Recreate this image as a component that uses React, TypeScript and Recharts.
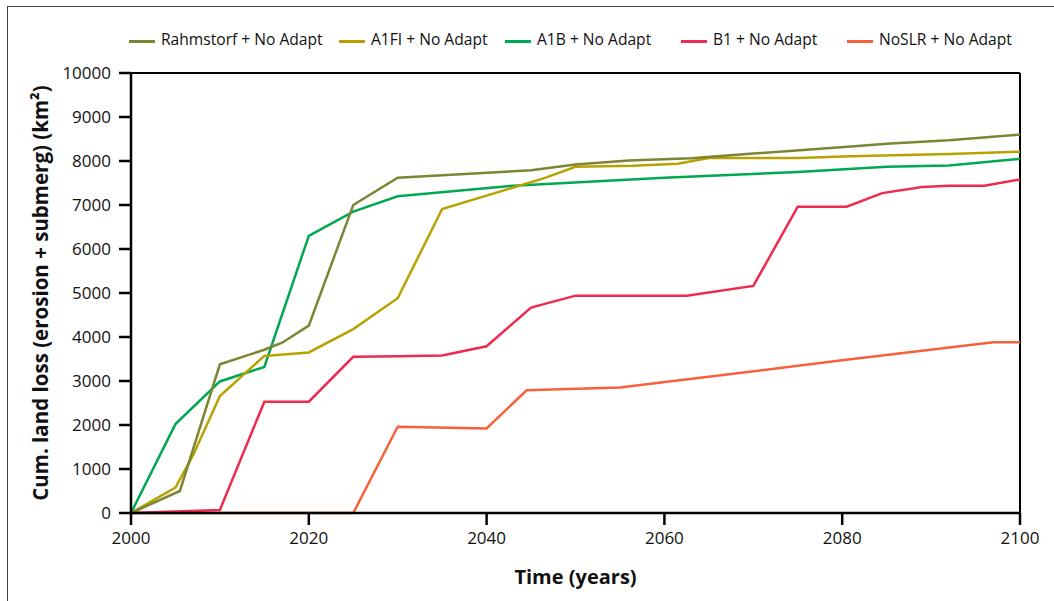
import { LineChart, Line, XAxis, YAxis, ReferenceLine } from 'recharts';

// scenario names and colours
const seriesNames = [
  'Rahmstorf + No Adapt',
  'A1FI + No Adapt',
  'A1B + No Adapt',
  'B1 + No Adapt',
  'NoSLR + No Adapt',
];
const seriesColors = ['#7b8532', '#b8a200', '#00a850', '#ee2a4e', '#f7603a'];
const seriesKeys = ['rahm', 'a1fi', 'a1b', 'b1', 'noslr'];

// [year, km2] points
const rahmstorf = [
  [2000, 0], [2005.5, 500], [2010, 3380], [2015, 3710], [2017, 3870], [2020, 4260],
  [2025, 7000], [2030, 7620], [2045, 7790], [2050, 7920], [2056, 8010], [2063, 8060],
  [2070, 8170], [2081, 8330], [2085, 8390], [2092, 8470], [2100, 8600],
];
const a1fi = [
  [2000, 0], [2005, 580], [2007, 1320], [2010, 2660], [2015, 3570], [2020, 3650],
  [2025, 4180], [2030, 4880], [2035, 6910], [2046.5, 7610], [2050, 7870], [2056.5, 7890],
  [2061.5, 7940], [2065, 8070], [2075, 8070], [2081, 8110], [2092, 8160], [2100, 8210],
];
const a1b = [
  [2000, 0], [2005, 2020], [2010, 2990], [2015, 3320], [2020, 6300], [2025, 6850],
  [2030, 7200], [2043, 7440], [2060, 7620], [2075, 7750], [2085, 7870], [2092, 7900],
  [2100, 8050],
];
const b1 = [
  [2000, 0], [2010, 70], [2015, 2530], [2020, 2530], [2025, 3550], [2030, 3560],
  [2035, 3580], [2040, 3790], [2045, 4670], [2050, 4940], [2062.5, 4940], [2070, 5160],
  [2075, 6960], [2080.5, 6960], [2084.5, 7270], [2089, 7410], [2092, 7440], [2096, 7440],
  [2100, 7580],
];
const noslr = [
  [2000, 0], [2025, 0], [2030, 1960], [2040, 1920], [2044.5, 2790], [2055, 2850],
  [2080, 3470], [2097, 3880], [2100, 3880],
];

const allSeries = [rahmstorf, a1fi, a1b, b1, noslr];

const xTicks = [2000, 2020, 2040, 2060, 2080, 2100];
const yTicks = [0, 1000, 2000, 3000, 4000, 5000, 6000, 7000, 8000, 9000, 10000];

// merge into one table keyed by year
const years = Array.from(new Set(allSeries.flatMap((s) => s.map((p) => p[0])))).sort((a, b) => a - b);
const data = years.map((yr) => {
  const row: Record<string, number> = { year: yr };
  allSeries.forEach((s, i) => {
    const hit = s.find((p) => p[0] === yr);
    if (hit) row[seriesKeys[i]] = hit[1];
  });
  return row;
});

const legendLeft = [129, 339, 505, 681, 847];
const font = '"Open Sans", "Noto Sans", sans-serif';

export default function App() {
  return (
    <div style={{ position: 'absolute', left: 0, top: 0, width: 1054, height: 601, background: '#fff', fontFamily: font }}>
      <div style={{ position: 'absolute', left: 7, top: 6, right: -2, bottom: -2, borderLeft: '1.5px solid #444', borderTop: '1.5px solid #444' }} />
      {seriesNames.map((name, i) => (
        <div key={name} style={{ position: 'absolute', left: legendLeft[i], top: 28, display: 'flex', alignItems: 'center', fontSize: 15.6, color: '#111', whiteSpace: 'nowrap' }}>
          <span style={{ display: 'inline-block', width: 26, height: 3, background: seriesColors[i], marginRight: 6, marginTop: 4 }} />
          {name}
        </div>
      ))}
      <LineChart
        width={1054}
        height={601}
        data={data}
        margin={{ top: 73, right: 34, left: 0, bottom: 0 }}
        style={{ position: 'absolute', left: 0, top: 0 }}
      >
        <XAxis
          dataKey="year"
          type="number"
          domain={[2000, 2100]}
          ticks={xTicks}
          height={88}
          tickSize={12}
          tickMargin={7}
          axisLine={{ stroke: '#000', strokeWidth: 2.5 }}
          tickLine={{ stroke: '#000', strokeWidth: 2.5 }}
          tick={{ fontSize: 17, fill: '#111', fontFamily: font }}
          label={{ value: 'Time (years)', position: 'insideBottom', offset: 17, style: { fontSize: 20, fontWeight: 700, fill: '#111', fontFamily: font } }}
        />
        <YAxis
          type="number"
          domain={[0, 10000]}
          ticks={yTicks}
          width={131}
          tickSize={12}
          tickMargin={8}
          interval={0}
          axisLine={{ stroke: '#000', strokeWidth: 2.5 }}
          tickLine={{ stroke: '#000', strokeWidth: 2.5 }}
          tick={{ fontSize: 17, fill: '#111', fontFamily: font }}
          label={{ value: 'Cum. land loss (erosion + submerg) (km²)', angle: -90, position: 'insideLeft', offset: 41, style: { textAnchor: 'middle', fontSize: 20.5, fontWeight: 700, fill: '#111', fontFamily: font } }}
        />
        <ReferenceLine y={10000} stroke="#000" strokeWidth={2} />
        <ReferenceLine x={2100} stroke="#000" strokeWidth={2} />
        {seriesKeys.slice().reverse().map((k) => {
          const i = seriesKeys.indexOf(k);
          return (
            <Line
              key={k}
              dataKey={k}
              name={seriesNames[i]}
              type="linear"
              stroke={seriesColors[i]}
              strokeWidth={2.5}
              dot={false}
              connectNulls
              isAnimationActive={false}
            />
          );
        })}
      </LineChart>
    </div>
  );
}
